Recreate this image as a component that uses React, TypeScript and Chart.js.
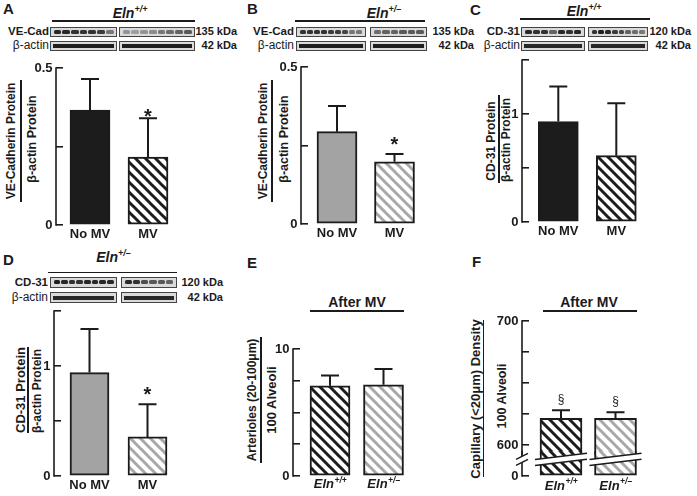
import React, { useEffect, useRef } from 'react';
import { Chart, registerables } from 'chart.js';
Chart.register(...registerables);

const FONT = "'Liberation Sans', Arial, Helvetica, sans-serif";
const INK = '#1b1b1b';

// ---------------- data ----------------
const MV_CATEGORIES = ['No MV', 'MV'];
const GENO_PREFIX = 'Eln';
const GENOTYPES = ['+/+', '+/–'];

const A_MEAN = [0.366, 0.216];
const A_SEM = [0.099, 0.124];
const A_MARK = ['', '*'];

const B_MEAN = [0.294, 0.198];
const B_SEM = [0.082, 0.025];
const B_MARK = ['', '*'];

const C_MEAN = [0.93, 0.614];
const C_SEM = [0.324, 0.486];
const C_MARK = ['', ''];

const D_MEAN = [0.94, 0.355];
const D_SEM = [0.396, 0.297];
const D_MARK = ['', '*'];

const E_MEAN = [7.1, 7.18];
const E_SEM = [0.82, 1.24];
const E_MARK = ['', ''];

const F_MEAN = [621.5, 621.5];
const F_SEM = [6.5, 4.9];
const F_MARK = ['§', '§'];

const TICKS_A = [0, 0.25, 0.5];
const LABELS_A = [0, 0.5];
const TICKS_CD = [0, 0.5, 1, 1.5];
const LABELS_CD = [0, 1];
const TICKS_E = [0, 2.5, 5, 7.5, 10];
const LABELS_E = [0, 10];
const TICKS_F_UP = [600, 625, 650, 675, 700];
const LABELS_F_UP = [600, 700];
const TICKS_F_LOW = [0];
const LABELS_F_LOW = [0];

// western blot lane band intensities
const A_VECAD_L = [0.9, 0.9, 0.85, 0.85, 0.85, 0.8, 0.5];
const A_VECAD_R = [0.35, 0.3, 0.35, 0.4, 0.5, 0.55, 0.6, 0.65];
const A_ACTIN_L = [0.95, 0.95, 0.95, 0.95, 0.95, 0.95, 0.95];
const A_ACTIN_R = [0.95, 0.95, 0.95, 0.95, 0.95, 0.95, 0.95, 0.95];
const B_VECAD_L = [0.85, 0.85, 0.85, 0.85, 0.8, 0.8, 0.75, 0.5, 0.5];
const B_VECAD_R = [0.55, 0.6, 0.6, 0.65, 0.65, 0.65];
const B_ACTIN_L = [0.95, 0.95, 0.95, 0.95, 0.95, 0.95, 0.95, 0.95, 0.95];
const B_ACTIN_R = [0.95, 0.95, 0.95, 0.95, 0.95, 0.95];
const C_CD31_L = [0.9, 0.85, 0.85, 0.6, 0.9, 0.85, 0.9];
const C_CD31_R = [0.85, 0.95, 0.9, 0.8, 0.75, 0.6, 0.55, 0.5];
const C_ACTIN_L = [0.9, 0.9, 0.9, 0.9, 0.9, 0.9, 0.9];
const C_ACTIN_R = [0.9, 0.9, 0.9, 0.9, 0.9, 0.9, 0.9, 0.9];
const D_CD31_L = [0.95, 0.9, 0.85, 0.85, 0.9, 0.9, 0.9, 0.9];
const D_CD31_R = [0.9, 0.85, 0.7, 0.65, 0.65, 0.6];
const D_ACTIN_L = [0.9, 0.9, 0.9, 0.9, 0.9, 0.9, 0.9, 0.9];
const D_ACTIN_R = [0.9, 0.9, 0.9, 0.9, 0.9, 0.9];

// ---------------- helpers ----------------
function makeFill(kind: string): any {
  if (kind === 'black') return '#1c1c1c';
  if (kind === 'gray') return '#a3a3a3';
  const color = kind === 'hatchBlack' ? '#1c1c1c' : '#a8a8a8';
  const c = document.createElement('canvas');
  c.width = 10;
  c.height = 10;
  const g = c.getContext('2d')!;
  g.fillStyle = '#ffffff';
  g.fillRect(0, 0, 10, 10);
  g.strokeStyle = color;
  g.lineWidth = 3;
  g.lineCap = 'square';
  for (const k of [-10, 0, 10]) {
    g.beginPath();
    g.moveTo(k - 2, -2);
    g.lineTo(k + 12, 12);
    g.stroke();
  }
  return g.createPattern(c, 'repeat');
}

type PanelProps = {
  axisX: number;
  topPx: number;
  botPx: number;
  yMin: number;
  yMax: number;
  ticks: number[];
  tickLabels: number[];
  off: number;
  gap: number;
  barW: number;
  means: number[];
  sems?: number[];
  fills: string[];
  marks?: string[];
  markOffset?: number;
  cats?: string[];
  geno?: string[];
  genoDrop?: number;
  padTop?: number;
  padBottom?: number;
  showX?: boolean;
  breakMarks?: boolean;
};

function BarPanel(p: PanelProps) {
  const ref = useRef<HTMLCanvasElement>(null);
  const YW = 40;
  const TL = 7;
  const showX = p.showX !== false;
  const XH = showX ? 24 : 0;
  const PT = p.padTop ?? 12;
  const PB = p.padBottom ?? 0;
  const left = p.axisX + TL;
  const Wc = Math.round(p.off + p.gap + 40);
  const cl = left - YW;
  const ct = p.topPx - PT;
  const cw = YW + Wc;
  const ch = PT + (p.botPx - p.topPx) + XH + PB;
  const xMin = -p.off / p.gap;
  const xMax = xMin + Wc / p.gap;

  useEffect(() => {
    const canvas = ref.current!;
    const fills = p.fills.map(makeFill);
    const deco = {
      id: 'deco',
      afterDatasetsDraw(chart: any) {
        const { ctx, chartArea: ca, scales } = chart;
        const ys = scales.y;
        ctx.save();
        ctx.strokeStyle = INK;
        ctx.lineWidth = 1.6;
        const ax = ca.left - TL;
        ctx.beginPath();
        ctx.moveTo(ax, ca.top - 0.8);
        ctx.lineTo(ax, ca.bottom + 0.8);
        ctx.stroke();
        const meta = chart.getDatasetMeta(0);
        if (p.sems) {
          meta.data.forEach((el: any, i: number) => {
            const x = el.x;
            const yt = el.y;
            const ye = ys.getPixelForValue(p.means[i] + p.sems![i]);
            ctx.lineWidth = 2;
            ctx.strokeStyle = INK;
            ctx.beginPath();
            ctx.moveTo(x, yt);
            ctx.lineTo(x, ye);
            ctx.moveTo(x - 9, ye);
            ctx.lineTo(x + 9, ye);
            ctx.stroke();
            const m = p.marks?.[i];
            if (m) {
              ctx.fillStyle = INK;
              ctx.textAlign = 'center';
              ctx.textBaseline = 'alphabetic';
              if (m === '*') {
                ctx.font = `bold 20px ${FONT}`;
                ctx.fillText(m, x, ye + (p.markOffset ?? -3));
              } else {
                ctx.font = `12px ${FONT}`;
                ctx.fillText(m, x, ye - 7);
              }
            }
          });
        }
        ctx.restore();
      },
      afterDraw(chart: any) {
        const { ctx, chartArea: ca, scales } = chart;
        const xs = scales.x;
        ctx.save();
        if (p.geno) {
          p.geno.forEach((sup, i) => {
            const x = xs.getPixelForValue(i);
            ctx.font = `italic bold 13px ${FONT}`;
            const w1 = ctx.measureText(GENO_PREFIX).width;
            ctx.font = `italic bold 8.5px ${FONT}`;
            const w2 = ctx.measureText(sup).width;
            const x0 = x - (w1 + w2) / 2;
            const base = ca.bottom + (p.genoDrop ?? 12);
            ctx.textAlign = 'left';
            ctx.textBaseline = 'alphabetic';
            ctx.fillStyle = INK;
            ctx.font = `italic bold 13px ${FONT}`;
            ctx.fillText(GENO_PREFIX, x0, base);
            ctx.font = `italic bold 8.5px ${FONT}`;
            ctx.fillText(sup, x0 + w1 + 0.5, base - 5.5);
          });
        }
        if (p.breakMarks) {
          const meta = chart.getDatasetMeta(0);
          const yc = ca.top + 8;
          const g = 3;
          const regions: [number, number, number][] = [[ca.left - TL - 6, ca.left - TL + 6, 0.5]];
          meta.data.forEach((el: any) => {
            regions.push([el.x - p.barW / 2 - 5, el.x + p.barW / 2 + 5, 0.12]);
          });
          regions.forEach(([xl, xr, s]) => {
            const xm = (xl + xr) / 2;
            const y1 = (x: number) => yc - g - s * (x - xm);
            const y2 = (x: number) => yc + g - s * (x - xm);
            ctx.fillStyle = '#ffffff';
            ctx.beginPath();
            ctx.moveTo(xl, y1(xl));
            ctx.lineTo(xr, y1(xr));
            ctx.lineTo(xr, y2(xr));
            ctx.lineTo(xl, y2(xl));
            ctx.closePath();
            ctx.fill();
            ctx.strokeStyle = INK;
            ctx.lineWidth = 1.5;
            ctx.beginPath();
            ctx.moveTo(xl, y1(xl));
            ctx.lineTo(xr, y1(xr));
            ctx.moveTo(xl, y2(xl));
            ctx.lineTo(xr, y2(xr));
            ctx.stroke();
          });
        }
        ctx.restore();
      },
    };
    const chart = new Chart(canvas, {
      type: 'bar',
      data: {
        datasets: [
          {
            data: p.means.map((v, i) => ({ x: i, y: v })),
            backgroundColor: fills,
            borderColor: INK,
            borderWidth: 2,
            borderSkipped: false,
            barThickness: p.barW,
            clip: 0,
          } as any,
        ],
      },
      options: {
        responsive: false,
        maintainAspectRatio: false,
        animation: false,
        events: [],
        devicePixelRatio: 1,
        layout: { padding: { top: PT, bottom: PB, left: 0, right: 0 } },
        plugins: { legend: { display: false }, tooltip: { enabled: false } },
        scales: {
          x: {
            type: 'linear',
            display: showX,
            min: xMin,
            max: xMax,
            offset: false,
            beginAtZero: false,
            grid: { display: false, drawTicks: false },
            border: { display: false },
            afterBuildTicks: (s: any) => {
              s.ticks = p.means.map((_, i) => ({ value: i }));
            },
            afterFit: (s: any) => {
              s.height = XH;
            },
            ticks: {
              display: !!p.cats,
              padding: 2,
              autoSkip: false,
              maxRotation: 0,
              color: INK,
              font: { family: FONT, size: 13, weight: 'bold' },
              callback: (v: any) => (p.cats ? p.cats[v] ?? '' : ''),
            },
          } as any,
          y: {
            type: 'linear',
            min: p.yMin,
            max: p.yMax,
            beginAtZero: false,
            afterBuildTicks: (s: any) => {
              s.ticks = p.ticks.map((v) => ({ value: v }));
            },
            afterFit: (s: any) => {
              s.width = YW;
            },
            grid: {
              display: true,
              drawOnChartArea: false,
              drawTicks: true,
              tickLength: TL,
              color: INK,
              lineWidth: 1.6,
            },
            border: { display: false },
            ticks: {
              padding: 3.5,
              color: INK,
              font: { family: FONT, size: 13, weight: 'bold' },
              callback: (v: any) => (p.tickLabels.includes(v) ? String(v) : ''),
            },
          } as any,
        },
      },
      plugins: [deco],
    });
    return () => chart.destroy();
  }, []);

  return (
    <canvas
      ref={ref}
      width={cw}
      height={ch}
      style={{ position: 'absolute', left: cl, top: ct, width: cw, height: ch }}
    />
  );
}

function T(props: {
  x: number;
  y: number;
  size: number;
  bold?: boolean;
  italic?: boolean;
  align?: 'left' | 'center' | 'right';
  children: any;
}) {
  const { x, y, size, bold = true, italic = false, align = 'left', children } = props;
  const tx = align === 'center' ? '-50%' : align === 'right' ? '-100%' : '0';
  return (
    <div
      style={{
        position: 'absolute',
        left: x,
        top: y - size * 0.846,
        fontSize: size,
        lineHeight: `${size}px`,
        fontWeight: bold ? 700 : 400,
        fontStyle: italic ? 'italic' : 'normal',
        whiteSpace: 'nowrap',
        transform: `translateX(${tx})`,
        color: INK,
      }}
    >
      {children}
    </div>
  );
}

function HLine({ x1, x2, y }: { x1: number; x2: number; y: number }) {
  return <div style={{ position: 'absolute', left: x1, top: y - 0.75, width: x2 - x1, height: 1.5, background: INK }} />;
}

function VLine({ x, y1, y2 }: { x: number; y1: number; y2: number }) {
  return <div style={{ position: 'absolute', left: x - 0.75, top: y1, width: 1.5, height: y2 - y1, background: INK }} />;
}

function VText(props: { cx: number; cy: number; size: number; bold?: boolean; children: any }) {
  const { cx, cy, size, bold = true, children } = props;
  return (
    <div
      style={{
        position: 'absolute',
        left: cx,
        top: cy,
        fontSize: size,
        lineHeight: `${size}px`,
        fontWeight: bold ? 700 : 400,
        whiteSpace: 'nowrap',
        transform: 'translate(-50%, -50%) rotate(-90deg)',
        color: INK,
      }}
    >
      {children}
    </div>
  );
}

function Eln({ x, y, size, sup }: { x: number; y: number; size: number; sup: string }) {
  return (
    <T x={x} y={y} size={size} italic align="center">
      {GENO_PREFIX}
      <span style={{ fontSize: size * 0.64, position: 'relative', top: -size * 0.42 }}>{sup}</span>
    </T>
  );
}

function Blot(props: { x: number; y: number; w: number; h: number; lanes: number[]; solid?: boolean }) {
  const { x, y, w, h, lanes, solid } = props;
  return (
    <div
      style={{
        position: 'absolute',
        left: x,
        top: y,
        width: w,
        height: h,
        boxSizing: 'border-box',
        border: '1px solid #444',
        background: '#dadada',
        display: 'flex',
        alignItems: 'center',
        padding: '0 2px',
      }}
    >
      {lanes.map((v, i) => (
        <div
          key={i}
          style={{
            flex: 1,
            height: solid ? 4 : 4,
            margin: solid ? 0 : '0 0.5px',
            background: `rgba(20,20,20,${v})`,
            borderRadius: solid ? 0 : 1.5,
          }}
        />
      ))}
    </div>
  );
}

function BlotSet(props: {
  label: string;
  kda1: string;
  kda2: string;
  labelRight: number;
  kdaRight: number;
  b1: [number, number];
  b2: [number, number];
  y1: number;
  y2: number;
  h1: number;
  h2: number;
  l1: number[];
  r1: number[];
  l2: number[];
  r2: number[];
}) {
  const p = props;
  return (
    <>
      <T x={p.labelRight} y={p.y1 + p.h1 / 2 + 4} size={11.5} align="right">
        {p.label}
      </T>
      <T x={p.labelRight} y={p.y2 + p.h2 / 2 + 4} size={12} bold={false} align="right">
        β-actin
      </T>
      <Blot x={p.b1[0]} y={p.y1} w={p.b1[1] - p.b1[0]} h={p.h1} lanes={p.l1} />
      <Blot x={p.b2[0]} y={p.y1} w={p.b2[1] - p.b2[0]} h={p.h1} lanes={p.r1} />
      <Blot x={p.b1[0]} y={p.y2} w={p.b1[1] - p.b1[0]} h={p.h2} lanes={p.l2} solid />
      <Blot x={p.b2[0]} y={p.y2} w={p.b2[1] - p.b2[0]} h={p.h2} lanes={p.r2} solid />
      <T x={p.kdaRight} y={p.y1 + p.h1 / 2 + 4} size={11} align="right">
        {p.kda1}
      </T>
      <T x={p.kdaRight} y={p.y2 + p.h2 / 2 + 4} size={11} align="right">
        {p.kda2}
      </T>
    </>
  );
}

export default function App() {
  return (
    <div
      style={{
        position: 'absolute',
        left: 0,
        top: 0,
        width: 697,
        height: 496,
        background: '#ffffff',
        fontFamily: FONT,
        color: INK,
        overflow: 'hidden',
      }}
    >
      {/* panel letters */}
      <T x={3} y={14} size={15}>A</T>
      <T x={247} y={14} size={15}>B</T>
      <T x={470} y={15} size={15}>C</T>
      <T x={3} y={265} size={15}>D</T>
      <T x={247} y={268} size={15}>E</T>
      <T x={472} y={267} size={15}>F</T>

      {/* genotype headers */}
      <Eln x={130} y={17.5} size={14} sup={GENOTYPES[0]} />
      <HLine x1={52} x2={195} y={21} />
      <Eln x={384} y={17.5} size={14} sup={GENOTYPES[1]} />
      <HLine x1={295} x2={425} y={21} />
      <Eln x={584} y={16} size={14} sup={GENOTYPES[0]} />
      <HLine x1={520} x2={650} y={19} />
      <Eln x={113.5} y={262} size={14} sup={GENOTYPES[1]} />
      <HLine x1={48} x2={177} y={272.5} />

      {/* blots */}
      <BlotSet label="VE-Cad" kda1="135 kDa" kda2="42 kDa" labelRight={49} kdaRight={237}
        b1={[50, 117]} b2={[119, 195]} y1={26.5} h1={10.5} y2={40.5} h2={10}
        l1={A_VECAD_L} r1={A_VECAD_R} l2={A_ACTIN_L} r2={A_ACTIN_R} />
      <BlotSet label="VE-Cad" kda1="135 kDa" kda2="42 kDa" labelRight={294} kdaRight={474}
        b1={[296, 366]} b2={[370, 427]} y1={26.5} h1={10.5} y2={40.5} h2={10}
        l1={B_VECAD_L} r1={B_VECAD_R} l2={B_ACTIN_L} r2={B_ACTIN_R} />
      <BlotSet label="CD-31" kda1="120 kDa" kda2="42 kDa" labelRight={520} kdaRight={691}
        b1={[521, 585]} b2={[588, 648]} y1={26.5} h1={10.5} y2={40.5} h2={10}
        l1={C_CD31_L} r1={C_CD31_R} l2={C_ACTIN_L} r2={C_ACTIN_R} />
      <BlotSet label="CD-31" kda1="120 kDa" kda2="42 kDa" labelRight={48} kdaRight={223}
        b1={[50, 117]} b2={[121, 177]} y1={277} h1={10.5} y2={292} h2={11}
        l1={D_CD31_L} r1={D_CD31_R} l2={D_ACTIN_L} r2={D_ACTIN_R} />

      {/* After MV headers */}
      <T x={357} y={307} size={14} align="center">After MV</T>
      <HLine x1={310} x2={404} y={311} />
      <T x={589} y={307} size={14} align="center">After MV</T>
      <HLine x1={543} x2={637} y={311} />

      {/* y-axis titles */}
      <VText cx={11} cy={141} size={12}>VE-Cadherin Protein</VText>
      <VLine x={21} y1={80} y2={202} />
      <VText cx={32} cy={139} size={12.5}>β-actin Protein</VText>

      <VText cx={262.5} cy={141} size={12}>VE-Cadherin Protein</VText>
      <VLine x={272} y1={80} y2={202} />
      <VText cx={284} cy={139} size={12.5}>β-actin Protein</VText>

      <VText cx={491} cy={141} size={12}>CD-31 Protein</VText>
      <VLine x={499} y1={95} y2={183} />
      <VText cx={506} cy={140} size={12}>β-actin Protein</VText>

      <VText cx={20} cy={390} size={13}>CD-31 Protein</VText>
      <VLine x={28} y1={347} y2={433} />
      <VText cx={36.5} cy={391} size={12}>β-actin Protein</VText>

      <VText cx={252} cy={400} size={12}>Arterioles (20-100μm)</VText>
      <VLine x={261} y1={337} y2={463} />
      <VText cx={271} cy={400} size={13}>100 Alveoli</VText>

      <VText cx={475} cy={399} size={13}>Capillary (&lt;20μm) Density</VText>
      <VLine x={483.5} y1={320} y2={477} />
      <VText cx={502} cy={396} size={12.5}>100 Alveoli</VText>

      {/* charts */}
      <BarPanel axisX={56} topPx={68} botPx={225} yMin={0} yMax={0.5} ticks={TICKS_A} tickLabels={LABELS_A}
        off={27} gap={58} barW={40} means={A_MEAN} sems={A_SEM} marks={A_MARK} markOffset={4.5}
        fills={['black', 'hatchBlack']} cats={MV_CATEGORIES} />
      <BarPanel axisX={301} topPx={67} botPx={224} yMin={0} yMax={0.5} ticks={TICKS_A} tickLabels={LABELS_A}
        off={29} gap={57.5} barW={40} means={B_MEAN} sems={B_SEM} marks={B_MARK} markOffset={-3}
        fills={['gray', 'hatchGray']} cats={MV_CATEGORIES} />
      <BarPanel axisX={522} topPx={60} botPx={222} yMin={0} yMax={1.5} ticks={TICKS_CD} tickLabels={LABELS_CD}
        off={29.3} gap={58} barW={40} means={C_MEAN} sems={C_SEM} marks={C_MARK}
        fills={['black', 'hatchBlack']} cats={MV_CATEGORIES} />
      <BarPanel axisX={54} topPx={311} botPx={476} yMin={0} yMax={1.5} ticks={TICKS_CD} tickLabels={LABELS_CD}
        off={28.5} gap={58} barW={39} means={D_MEAN} sems={D_SEM} marks={D_MARK} markOffset={-3}
        fills={['gray', 'hatchGray']} cats={MV_CATEGORIES} />
      <BarPanel axisX={293} topPx={349} botPx={476} yMin={0} yMax={10} ticks={TICKS_E} tickLabels={LABELS_E}
        off={30} gap={53.5} barW={40} means={E_MEAN} sems={E_SEM} marks={E_MARK}
        fills={['hatchBlack', 'hatchGray']} geno={GENOTYPES} genoDrop={12} />
      <BarPanel axisX={522} topPx={321} botPx={455} yMin={592} yMax={700} ticks={TICKS_F_UP} tickLabels={LABELS_F_UP}
        off={32} gap={54.5} barW={42} means={F_MEAN} sems={F_SEM} marks={F_MARK}
        fills={['hatchBlack', 'hatchGray']} showX={false} padBottom={14} />
      <BarPanel axisX={522} topPx={449} botPx={476} yMin={0} yMax={10} ticks={TICKS_F_LOW} tickLabels={LABELS_F_LOW}
        off={32} gap={54.5} barW={42} means={F_MEAN}
        fills={['hatchBlack', 'hatchGray']} geno={GENOTYPES} genoDrop={13.5} padTop={9} breakMarks />
    </div>
  );
}
